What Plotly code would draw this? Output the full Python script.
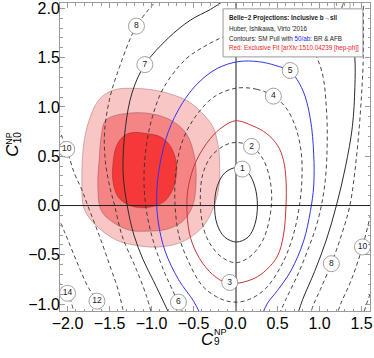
import plotly.graph_objects as go

# ---------------- axis ranges / ticks ----------------
X_RANGE = [-2.09, 1.60]
Y_RANGE = [-1.07, 2.055]

# ---------------- exclusive-fit regions (C9, C10) ----------------
fit3_c9 = [-1.46, -1.22, -0.90, -0.67, -0.55, -0.40, -0.27, -0.21, -0.19, -0.21, -0.35, -0.50,
           -0.67, -0.90, -1.14, -1.42, -1.65, -1.80, -1.83, -1.80, -1.72, -1.62, -1.46]
fit3_c10 = [1.17, 1.19, 1.16, 1.10, 1.05, 0.94, 0.80, 0.62, 0.45, 0.13, -0.17, -0.30,
            -0.38, -0.42, -0.41, -0.35, -0.21, -0.04, 0.26, 0.67, 0.92, 1.08, 1.17]

fit2_c9 = [-1.54, -1.23, -0.94, -0.72, -0.58, -0.49, -0.47, -0.51, -0.63, -0.82, -1.05, -1.26,
           -1.46, -1.60, -1.64, -1.62, -1.60, -1.54]
fit2_c10 = [0.87, 0.94, 0.92, 0.84, 0.72, 0.50, 0.26, 0.00, -0.16, -0.24, -0.26, -0.25,
            -0.17, -0.05, 0.20, 0.50, 0.70, 0.87]

fit1_c9 = [-1.23, -1.06, -0.90, -0.80, -0.73, -0.70, -0.74, -0.85, -1.05, -1.26, -1.40, -1.46,
           -1.46, -1.42, -1.34, -1.23]
fit1_c10 = [0.74, 0.73, 0.70, 0.63, 0.52, 0.37, 0.18, 0.04, -0.02, 0.00, 0.09, 0.25,
            0.42, 0.60, 0.70, 0.74]

# ---------------- SM pull contours (C9, C10) ----------------
pull1_c9 = [0.01, 0.15, 0.23, 0.26, 0.23, 0.15, 0.01, -0.13, -0.22, -0.25, -0.22, -0.13, 0.01]
pull1_c10 = [0.385, 0.33, 0.19, 0.00, -0.19, -0.32, -0.37, -0.32, -0.19, 0.00, 0.19, 0.33, 0.385]

pull2_c9 = [0.00, 0.19, 0.32, 0.40, 0.43, 0.40, 0.32, 0.17, 0.00, -0.17, -0.31, -0.39, -0.42,
            -0.39, -0.29, -0.13, 0.00]
pull2_c10 = [0.64, 0.60, 0.48, 0.30, 0.08, -0.15, -0.36, -0.52, -0.58, -0.52, -0.38, -0.20, 0.05,
             0.32, 0.50, 0.61, 0.64]

pull3_c9 = [0.00, 0.20, 0.37, 0.50, 0.57, 0.60, 0.60, 0.57, 0.50, 0.37, 0.22, 0.00, -0.15, -0.31,
            -0.46, -0.55, -0.58, -0.56, -0.47, -0.30, -0.15, 0.00]
pull3_c10 = [0.86, 0.81, 0.73, 0.61, 0.46, 0.26, 0.00, -0.30, -0.51, -0.65, -0.74, -0.79, -0.77,
             -0.67, -0.49, -0.28, 0.00, 0.20, 0.45, 0.68, 0.80, 0.86]

pull4_c9 = [0.00, 0.25, 0.45, 0.61, 0.72, 0.78, 0.79, 0.76, 0.68, 0.55, 0.36, 0.17, 0.00, -0.17,
            -0.39, -0.56, -0.67, -0.72, -0.71, -0.63, -0.48, -0.26, 0.00]
pull4_c10 = [1.19, 1.18, 1.11, 0.98, 0.78, 0.55, 0.28, 0.00, -0.32, -0.60, -0.84, -0.95, -0.98,
             -0.95, -0.82, -0.57, -0.32, 0.00, 0.35, 0.66, 0.90, 1.10, 1.19]

pull5_c9 = [-0.42, -0.50, -0.68, -0.84, -0.92, -0.94, -0.90, -0.80, -0.64, -0.45, -0.22, 0.03,
            0.27, 0.48, 0.65, 0.80, 0.89, 0.93, 0.93, 0.89, 0.81, 0.66, 0.50, 0.38, 0.32]
pull5_c10 = [-1.10, -0.97, -0.75, -0.46, -0.17, 0.10, 0.42, 0.75, 1.03, 1.24, 1.39, 1.46,
             1.46, 1.42, 1.36, 1.17, 0.88, 0.52, 0.20, -0.06, -0.36, -0.66, -0.86, -0.99, -1.10]

pull6_c9 = [-0.62, -0.70, -0.85, -0.99, -1.07, -1.09, -1.06, -0.99, -0.86, -0.60, -0.40, -0.15,
            0.15, 0.45, 0.72, 0.92, 1.03, 1.08, 1.09, 1.06, 0.98, 0.86, 0.73, 0.60, 0.52]
pull6_c10 = [-1.10, -0.95, -0.67, -0.33, 0.00, 0.30, 0.62, 0.90, 1.19, 1.48, 1.60, 1.71,
             1.80, 1.82, 1.74, 1.57, 1.35, 1.00, 0.60, 0.20, -0.15, -0.45, -0.72, -0.95, -1.10]

pull7_left_c9 = [-0.10, -0.30, -0.54, -0.80, -1.08, -1.23, -1.31, -1.34, -1.29, -1.21, -1.10,
                 -0.98, -0.85, -0.79]
pull7_left_c10 = [2.10, 1.99, 1.88, 1.70, 1.43, 1.15, 0.80, 0.35, 0.00, -0.30, -0.55, -0.76,
                  -0.99, -1.10]
pull7_right_c9 = [1.30, 1.38, 1.42, 1.42, 1.39, 1.31, 1.20, 1.08, 0.94, 0.80, 0.74]
pull7_right_c10 = [2.10, 1.80, 1.50, 1.20, 0.80, 0.40, 0.00, -0.35, -0.67, -0.95, -1.10]

pull8_left_c9 = [-0.92, -1.18, -1.38, -1.50, -1.56, -1.55, -1.50, -1.44, -1.35, -1.18, -1.06, -1.00]
pull8_left_c10 = [2.10, 1.82, 1.41, 1.08, 0.74, 0.45, 0.20, 0.00, -0.31, -0.65, -0.92, -1.10]
pull8_right_c9 = [1.52, 1.52, 1.49, 1.44, 1.36, 1.26, 1.14, 1.01, 0.93, 0.89]
pull8_right_c10 = [2.10, 1.50, 1.00, 0.50, 0.00, -0.30, -0.59, -0.85, -1.00, -1.10]

pull10_left_c9 = [-2.14, -2.01, -1.92, -1.83, -1.76, -1.62, -1.48, -1.40, -1.33]
pull10_left_c10 = [0.85, 0.57, 0.33, 0.16, 0.00, -0.31, -0.65, -0.85, -1.10]
pull10_right_c9 = [1.80, 1.70, 1.62, 1.51, 1.38, 1.25, 1.21]
pull10_right_c10 = [0.60, 0.20, -0.05, -0.42, -0.75, -1.00, -1.10]

pull12_left_c9 = [-2.15, -2.04, -1.90, -1.76, -1.65, -1.60]
pull12_left_c10 = [-0.05, -0.26, -0.55, -0.82, -0.97, -1.10]
pull12_right_c9 = [1.85, 1.72, 1.60, 1.52]
pull12_right_c10 = [-0.30, -0.65, -0.90, -1.10]

pull14_left_c9 = [-2.15, -2.05, -2.00, -1.95, -1.92]
pull14_left_c10 = [-0.70, -0.85, -0.89, -1.00, -1.10]

# ---------------- contour labels ----------------
label_text = ["1", "2", "3", "4", "5", "6", "7", "8", "8", "10", "10", "12", "14", "7"]
label_c9 = [0.08, 0.19, -0.07, 0.45, 0.65, -0.68, -1.08, -1.18, 1.14, -2.01, 1.51, -1.65, -2.00, 1.27]
label_c10 = [0.37, 0.60, -0.78, 1.11, 1.37, -0.98, 1.43, 1.82, -0.59, 0.57, -0.42, -0.97, -0.89, 2.03]

# ---------------- styles ----------------
SOLID_BLACK = dict(color="#2b2b2b", width=1.0)
DASHED = dict(color="#333333", width=0.9, dash="4px,3px")
RED = dict(color="#cc3333", width=1.0)
BLUE = dict(color="#3333ee", width=1.0)

fig = go.Figure()

# filled exclusive-fit regions
for xs, ys, fc, lc in [
    (fit3_c9, fit3_c10, "#f9c6c6", "rgba(150,90,90,0.55)"),
    (fit2_c9, fit2_c10, "#f58585", "rgba(140,60,60,0.55)"),
    (fit1_c9, fit1_c10, "#f53838", "rgba(130,40,40,0.55)"),
]:
    fig.add_trace(go.Scatter(
        x=xs, y=ys, mode="lines", fill="toself", fillcolor=fc,
        line=dict(color=lc, width=0.8, shape="spline", smoothing=1.0),
        hoverinfo="skip", showlegend=False))

contours = [
    (pull1_c9, pull1_c10, SOLID_BLACK),
    (pull2_c9, pull2_c10, DASHED),
    (pull3_c9, pull3_c10, RED),
    (pull4_c9, pull4_c10, DASHED),
    (pull5_c9, pull5_c10, BLUE),
    (pull6_c9, pull6_c10, DASHED),
    (pull7_left_c9, pull7_left_c10, SOLID_BLACK),
    (pull7_right_c9, pull7_right_c10, SOLID_BLACK),
    (pull8_left_c9, pull8_left_c10, DASHED),
    (pull8_right_c9, pull8_right_c10, DASHED),
    (pull10_left_c9, pull10_left_c10, DASHED),
    (pull10_right_c9, pull10_right_c10, DASHED),
    (pull12_left_c9, pull12_left_c10, DASHED),
    (pull12_right_c9, pull12_right_c10, DASHED),
    (pull14_left_c9, pull14_left_c10, DASHED),
]
for xs, ys, st in contours:
    fig.add_trace(go.Scatter(
        x=xs, y=ys, mode="lines",
        line=dict(shape="spline", smoothing=1.0, **st),
        hoverinfo="skip", showlegend=False))

# contour labels
fig.add_trace(go.Scatter(
    x=label_c9, y=label_c10, mode="markers+text", text=label_text,
    textposition="middle center",
    textfont=dict(family="Liberation Sans", size=8.5, color="#222"),
    marker=dict(size=16, color="white", line=dict(color="#8a8a8a", width=0.8)),
    hoverinfo="skip", showlegend=False))

axis_common = dict(
    showgrid=False, ticks="inside", ticklen=5, tickcolor="#9a9a9a", tickwidth=1,
    showline=True, linecolor="#9a9a9a", linewidth=1, mirror="ticks",
    tickformat=".1f", dtick=0.5, tick0=0, automargin=False,
    tickfont=dict(family="Liberation Sans", size=16, color="black"),
    minor=dict(ticks="inside", ticklen=2.5, dtick=0.1, tick0=0, tickcolor="#9a9a9a", showgrid=False),
)

fig.update_layout(
    width=374, height=358, autosize=False,
    margin=dict(l=60, r=4, t=3, b=47),
    paper_bgcolor="white", plot_bgcolor="white",
    xaxis=dict(range=X_RANGE, zeroline=True, zerolinecolor="#8c8c8c", zerolinewidth=1.6,
               ticklabelstandoff=-2, **axis_common),
    yaxis=dict(range=Y_RANGE, zeroline=False, ticklabelstandoff=-4, **axis_common),
    shapes=[
        # horizontal axis line C10 = 0 drawn above the filled regions
        dict(type="line", xref="paper", x0=0, x1=1, yref="y", y0=0, y1=0,
             line=dict(color="#222", width=1), layer="above"),
        # legend box
        dict(type="rect", xref="paper", yref="paper", x0=0.526, x1=0.977, y0=0.825, y1=0.981,
             fillcolor="white", line=dict(color="#9a9a9a", width=1), layer="above"),
    ],
)

lf = dict(family="Liberation Sans", size=6.3, color="#222")
legend_lines = [
    ("<b>Belle−2 Projections: Inclusive b→sll</b>", 0.951),
    ("Huber, Ishikawa, Virto '2016", 0.917),
    ("Contours: SM Pull with <span style='color:#2222ff'>50/ab</span>: BR &amp; AFB", 0.886),
    ("<span style='color:#ee2222'>Red: Exclusive Fit [arXiv:1510.04239 [hep-ph]]</span>", 0.855),
]
for txt, yy in legend_lines:
    fig.add_annotation(text=txt, xref="paper", yref="paper", x=0.539, y=yy,
                       xanchor="left", yanchor="middle", showarrow=False, font=lf)

# axis titles (C with stacked super/subscripts)
tf = dict(family="Liberation Sans", color="black")
title_parts = [
    # (text, paper x, paper y, size, angle)
    ("<i>C</i>", 0.476, -0.094, 17, 0),
    ("NP", 0.518, -0.067, 9, 0),
    ("9", 0.507, -0.100, 10, 0),
    ("<i>C</i>", -0.152, 0.523, 17, -90),
    ("NP", -0.165, 0.562, 9, -90),
    ("10", -0.139, 0.564, 10, -90),
]
for txt, px, py, sz, ang in title_parts:
    fig.add_annotation(text=txt, xref="paper", yref="paper", x=px, y=py,
                       xanchor="center", yanchor="middle", textangle=ang,
                       showarrow=False, font=dict(size=sz, **tf))

fig.write_html("out.html",
               config={"displayModeBar": False},
               post_script="document.body.style.margin='0';document.body.style.padding='0';")
